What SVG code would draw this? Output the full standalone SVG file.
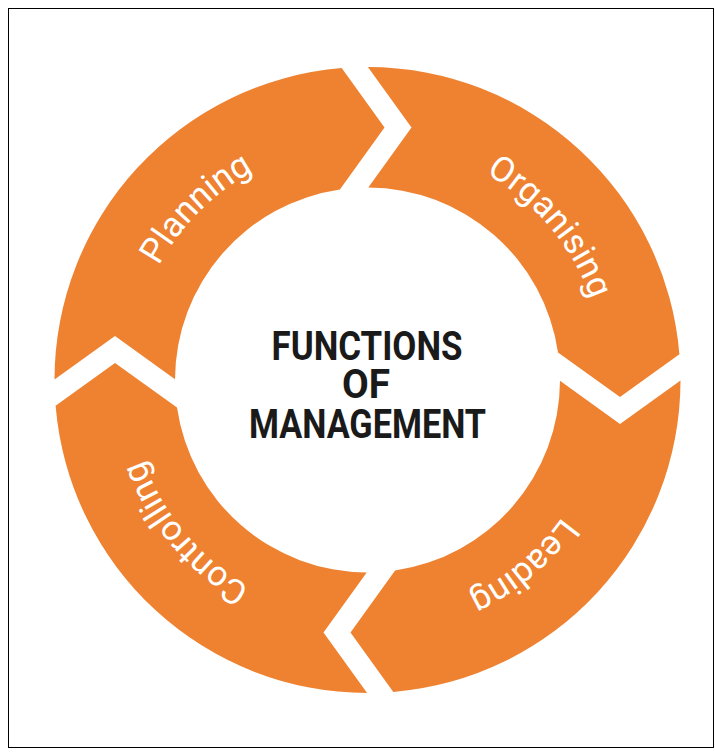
<svg xmlns="http://www.w3.org/2000/svg" xmlns:xlink="http://www.w3.org/1999/xlink" width="715" height="752" viewBox="0 0 715 752">
  <style>
    .seg { fill: #EE8231; }
    .lbl { font-family: Roboto, "Liberation Sans", sans-serif; font-size: 35px; fill: #FFFFFF; }
    .title { font-family: Roboto, "Liberation Sans", sans-serif; font-weight: 700; font-size: 40px; fill: #1A1A1A; text-anchor: middle; }
  </style>
  <defs>
    <path id="segShape" class="seg" d="M -313,-0.4 A 313 313 0 0 1 -25.8,-311.9 L 17,-252.5 L -27.6,-190.5 A 192.5 192.5 0 0 0 -192.5,-0.8 L -252.5,-44 Z"/>
    <path id="labelArc" fill="none" d="M -223.6,81.4 A 238 238 0 0 1 81.4,-223.6"/>
  </defs>
  <rect x="0" y="0" width="715" height="752" fill="#FFFFFF"/>
  <rect x="8.5" y="8.5" width="705" height="739" fill="none" stroke="#000000" stroke-width="1"/>
  <g id="connectors"></g>
  <g id="planning" transform="translate(367.5,380)">
    <use xlink:href="#segShape"/>
    <text class="lbl" transform="rotate(0)"><textPath xlink:href="#labelArc" startOffset="50%" text-anchor="middle">Planning</textPath></text>
  </g>
  <g id="organising" transform="translate(367.5,380) rotate(90)">
    <use xlink:href="#segShape"/>
    <text class="lbl" transform="rotate(5)"><textPath xlink:href="#labelArc" startOffset="50%" text-anchor="middle">Organising</textPath></text>
  </g>
  <g id="leading" transform="translate(367.5,380) rotate(180)">
    <use xlink:href="#segShape"/>
    <text class="lbl" transform="rotate(5)"><textPath xlink:href="#labelArc" startOffset="50%" text-anchor="middle">Leading</textPath></text>
  </g>
  <g id="controlling" transform="translate(367.5,380) rotate(270)">
    <use xlink:href="#segShape"/>
    <text class="lbl" transform="rotate(5)"><textPath xlink:href="#labelArc" startOffset="50%" text-anchor="middle">Controlling</textPath></text>
  </g>
  <g id="center">
    <text class="title" x="367" y="360" textLength="191" lengthAdjust="spacingAndGlyphs">FUNCTIONS</text>
    <text class="title" x="366" y="398" textLength="48" lengthAdjust="spacingAndGlyphs">OF</text>
    <text class="title" x="367.5" y="438" textLength="237" lengthAdjust="spacingAndGlyphs">MANAGEMENT</text>
  </g>
</svg>
